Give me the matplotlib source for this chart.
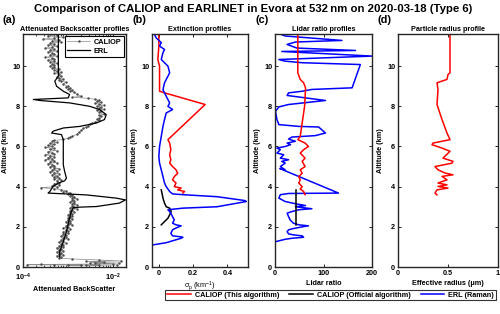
import numpy as np
import matplotlib
matplotlib.use('Agg')
import matplotlib.pyplot as plt
from matplotlib.lines import Line2D

plt.rcParams['font.family'] = ['Liberation Sans', 'DejaVu Sans']
plt.rcParams['font.weight'] = 'bold'
plt.rcParams['mathtext.default'] = 'regular'
#
# ---------------- data ----------------
# (a) attenuated backscatter, CALIOP (log10 of value)
cal_bsc_alt = [11.55, 11.5, 11.45, 11.4, 11.35, 11.3, 11.25, 11.2, 11.15, 11.1, 11.05, 11.0,
               10.95, 10.9, 10.85, 10.8, 10.75, 10.7, 10.65, 10.6, 10.55, 10.5, 10.45, 10.4,
               10.35, 10.3, 10.25, 10.2, 10.15, 10.1, 10.05, 10.0, 9.95, 9.9, 9.85, 9.8,
               9.75, 9.7, 9.65, 9.6, 9.5, 9.45, 9.4, 9.35, 9.3, 9.25, 9.2, 9.1, 9.0, 8.95,
               8.9, 8.85, 8.8, 8.75, 8.7, 8.6, 8.5, 8.45, 8.4, 8.35, 8.3, 8.25, 8.2, 8.15,
               8.1, 8.05, 8.0, 7.95, 7.9, 7.85, 7.8, 7.75, 7.7, 7.6, 7.55, 7.5, 7.4, 7.35,
               7.3, 7.2, 7.15, 7.1, 7.0, 6.95, 6.9, 6.8, 6.7, 6.6, 6.5, 6.45, 6.4, 6.35,
               6.3, 6.25, 6.2, 6.15, 6.1, 6.05, 6.0, 5.95, 5.9, 5.85, 5.8, 5.75, 5.7, 5.65,
               5.6, 5.55, 5.5, 5.45, 5.4, 5.35, 5.3, 5.25, 5.2, 5.15, 5.1, 5.05, 5.0, 4.95,
               4.9, 4.85, 4.8, 4.75, 4.7, 4.65, 4.6, 4.55, 4.5, 4.45, 4.4, 4.35, 4.3, 4.2,
               4.15, 4.1, 4.05, 4.0, 3.95, 3.9, 3.85, 3.8, 3.75, 3.7, 3.65, 3.6, 3.55, 3.5,
               3.45, 3.4, 3.35, 3.3, 3.25, 3.2, 3.15, 3.1, 3.05, 3.0, 2.95, 2.9, 2.85, 2.8,
               2.75, 2.7, 2.65, 2.6, 2.55, 2.5, 2.45, 2.4, 2.35, 2.3, 2.25, 2.2, 2.15, 2.1,
               2.05, 2.0, 1.95, 1.9, 1.85, 1.8, 1.75, 1.7, 1.65, 1.6, 1.55, 1.5, 1.45, 1.4,
               1.35, 1.3, 1.25, 1.2, 1.15, 1.1, 1.05, 1.0, 0.95, 0.9, 0.85, 0.8, 0.75, 0.7,
               0.65, 0.6, 0.55, 0.5, 0.45, 0.4, 0.35, 0.3, 0.28, 0.25, 0.22, 0.2, 0.18, 0.15,
               0.13, 0.11, 0.1, 0.1, 0.09, 0.1, 0.08, 0.1]
cal_bsc_log = [-3.25, -3.45, -3.1, -3.3, -3.55, -3.2, -3.35, -3.15, -3.4, -3.3, -3.45, -3.25,
               -3.35, -3.5, -3.3, -3.4, -3.25, -3.45, -3.35, -3.3, -3.4, -3.25, -3.5, -3.35,
               -3.3, -3.45, -3.3, -3.4, -3.25, -3.35, -3.3, -3.4, -3.3, -3.35, -3.2, -3.3,
               -3.25, -3.15, -3.3, -3.2, -3.15, -3.25, -3.2, -3.1, -3.2, -3.15, -3.05, -3.1, -3.0, -3.05,
               -2.95, -3.0, -2.9, -2.95, -2.85, -2.8, -2.7, -2.9, -2.55, -2.4, -2.3, -2.35, -2.25, -2.4,
               -2.3, -2.2, -2.35, -2.25, -2.3, -2.2, -2.35, -2.25, -2.3, -2.2, -2.3, -2.25, -2.3, -2.35,
               -2.3, -2.4, -2.45, -2.5, -2.55, -2.6, -2.65, -2.7, -2.75, -2.8, -2.9, -2.95, -3.0, -3.1,
               -3.3, -3.35, -3.25, -3.4, -3.3, -3.45, -3.35, -3.5, -3.3, -3.4, -3.25, -3.45, -3.35, -3.3,
               -3.5, -3.4, -3.3, -3.45, -3.35, -3.5, -3.3, -3.4, -3.25, -3.45, -3.35, -3.3, -3.4, -3.3,
               -3.2, -3.35, -3.25, -3.4, -3.3, -3.2, -3.35, -3.25, -3.3, -3.2, -3.3, -3.15, -3.25, -3.2,
               -3.3, -3.2, -3.35, -3.25, -3.6, -3.3, -3.15, -3.05, -3.1, -2.95, -3.0, -2.9, -2.95, -2.85,
               -2.9, -2.8, -2.9, -2.85, -2.95, -2.85, -2.9, -2.8, -2.9, -2.85, -2.95, -2.8, -2.9, -2.95,
               -2.85, -2.95, -2.9, -3.0, -2.9, -2.95, -3.0, -2.9, -3.0, -2.95, -3.05, -2.95, -3.0, -2.9,
               -3.05, -3.0, -3.1, -2.95, -3.05, -3.0, -3.1, -3.0, -3.1, -3.05, -3.15, -3.05, -3.1, -3.0,
               -3.15, -3.1, -3.2, -3.05, -3.15, -3.1, -3.2, -3.1, -3.25, -3.15, -3.2, -3.1, -3.25, -3.15,
               -3.2, -3.1, -3.25, -3.15, -3.2, -2.9, -2.3, -1.8, -2.6, -2.2, -2.5, -1.85, -2.4, -2.0,
               -3.6, -3.9, -3.3, -2.7, -3.0, -2.3, -2.6, -1.9]
# (a) attenuated backscatter, ERL (log10 of value)
erl_bsc_alt = [11.6, 9.5, 9.25, 9.0, 8.75, 8.59, 8.42, 8.34, 8.29, 8.17, 8.0, 7.84, 7.59,
               7.34, 7.17, 7.0, 6.92, 6.76, 6.67, 6.59, 6.34, 5.09, 4.76, 4.42, 4.29, 4.18,
               4.01, 3.76, 3.68, 3.59, 3.43, 3.34, 3.18, 3.01, 2.98, 2.95, 2.76, 2.43, 1.76,
               1.26, 0.77, 0.5]
erl_bsc_log = [-3.21, -3.21, -3.29, -3.25, -3.10, -2.96, -2.99, -3.77, -3.62, -2.96, -2.51,
               -2.29, -2.14, -2.18, -2.36, -2.73, -3.10, -3.33, -3.36, -3.14, -3.10, -3.10,
               -3.07, -3.03, -3.07, -3.21, -3.33, -3.40, -3.44, -2.59, -1.92, -1.71, -1.85,
               -2.36, -2.73, -2.88, -2.92, -2.96, -3.03, -3.10, -3.18, -3.18]

# (b) extinction (km-1)
cal_ext_alt = [3.68, 3.76, 3.84, 3.93, 4.0, 4.18, 4.34, 4.5, 4.67, 4.84, 5.0, 5.17, 5.34,
               5.59, 5.84, 6.17, 6.34, 8.09, 8.67, 8.75, 9.0, 10.0, 10.33, 11.0, 11.6]
cal_ext = [0.14, 0.15, 0.11, 0.13, 0.09, 0.10, 0.08, 0.09, 0.11, 0.10, 0.08, 0.063, 0.07,
           0.063, 0.07, 0.063, 0.053, 0.27, 0.033, 0.004, 0.004, 0.004, -0.006, 0.0, 0.0]
off_ext_alt = [2.1, 2.26, 2.43, 2.6, 2.76, 2.93, 3.0, 3.18, 3.43, 3.6, 3.84]
off_ext = [0.014, 0.033, 0.053, 0.063, 0.072, 0.063, 0.043, 0.033, 0.024, 0.02, 0.014]
erl_ext_alt = [1.10, 1.21, 1.31, 1.43, 1.48, 1.51, 1.55, 1.68, 1.85, 1.9, 2.05, 2.1, 2.18,
               2.35, 2.5, 2.68, 2.76, 2.85, 2.93, 3.0, 3.26, 3.31, 3.5, 3.6, 3.64, 3.76,
               3.88, 4.0, 4.18, 4.5, 4.84, 5.17, 5.5, 6.0, 6.5, 7.0, 7.34, 7.67, 7.84, 8.0,
               8.17, 8.5, 8.67, 8.83, 9.17, 9.5, 9.67, 10.0, 10.17, 10.33, 10.67, 10.83,
               11.0, 11.17, 11.41, 11.58]
erl_ext = [-0.035, 0.043, 0.082, 0.13, 0.14, 0.12, 0.08, 0.07, 0.08, 0.09, 0.13, 0.10, 0.08,
           0.09, 0.08, 0.07, 0.063, 0.053, 0.14, 0.34, 0.51, 0.50, 0.34, 0.14, 0.08, 0.063,
           0.053, 0.043, 0.033, 0.024, 0.014, 0.004, 0.0, 0.004, 0.014, 0.024, 0.033, 0.043,
           0.08, 0.053, 0.063, 0.043, 0.033, 0.024, 0.033, 0.053, 0.063, 0.053, 0.033, 0.014,
           0.024, 0.033, 0.004, 0.014, -0.016, -0.025]

# (c) lidar ratio (sr)
cal_lr_alt = [3.6, 3.76, 3.88, 4.0, 4.18, 4.34, 4.5, 4.67, 4.84, 5.0, 5.26, 5.42, 5.67,
              5.84, 6.0, 6.17, 6.34, 6.5, 7.17, 8.0, 8.92, 9.17, 9.34, 9.67, 11.66]
cal_lr = [62, 59, 52, 56, 49, 52, 49, 56, 52, 62, 56, 62, 52, 59, 69, 62, 47, 52, 56, 61,
          63, 59, 52, 47, 47]
off_lr_alt = [2.1, 2.5, 3.0, 3.5, 3.84]
off_lr = [43, 43, 43, 43, 43]
erl_lr_alt = [1.26, 1.38, 1.43, 1.48, 1.55, 1.6, 1.65, 1.76, 1.85, 1.9, 2.0, 2.05, 2.1,
              2.18, 2.35, 2.51, 2.68, 2.76, 2.85, 2.9, 2.96, 3.0, 3.06, 3.15, 3.26, 3.43,
              3.6, 3.66, 3.68, 4.9, 4.84, 5.0, 5.17, 5.26, 5.34, 5.42, 5.59, 5.67, 5.84,
              5.92, 6.0, 6.09, 6.17, 6.26, 6.37, 6.47, 6.54, 6.67, 6.97, 7.0, 7.09, 7.34,
              7.75, 7.97, 8.09, 8.29, 8.42, 8.54, 8.67, 8.75, 8.84, 8.92, 10.08, 10.17,
              10.25, 10.33, 10.5, 10.67, 10.73, 10.78, 10.9, 11.08, 11.2, 11.28, 11.5, 11.66]
erl_lr = [1, 21, 35, 59, 56, 38, 28, 25, 28, 35, 56, 69, 49, 38, 31, 28, 25, 35, 49, 76,
          56, 42, 63, 42, 21, 8, 11, 28, 131, 10, 21, 11, 21, 14, 28, 11, 18, 4, 11, 4, 21,
          32, 25, 42, 28, 35, 83, 104, 90, 49, 8, 4, 1, 8, 28, 104, 63, 25, 28, 56, 76,
          159, 176, 56, 20, 8, 200, 63, 14, 166, 45, 25, 42, 138, 21, 4]

# (d) effective radius (um)
cal_reff_alt = [3.59, 3.68, 3.84, 3.93, 4.01, 4.09, 4.18, 4.34, 4.51, 4.59, 4.68, 4.84, 5.0,
                5.17, 5.26, 5.42, 5.76, 5.92, 6.09, 6.17, 6.34, 6.67, 7.34, 8.09, 8.84, 9.17,
                9.34, 9.58, 9.67, 11.66]
cal_reff = [0.39, 0.37, 0.39, 0.50, 0.40, 0.49, 0.40, 0.49, 0.44, 0.55, 0.47, 0.40, 0.37,
            0.54, 0.55, 0.45, 0.52, 0.44, 0.34, 0.35, 0.52, 0.49, 0.44, 0.39, 0.40, 0.39,
            0.49, 0.50, 0.52, 0.52]
#
# ---------------- figure ----------------
fig = plt.figure(figsize=(5.0, 3.14), dpi=100)
W, H = 500.0, 314.0
def add_ax(x0, x1, y0=34, y1=267):
    return fig.add_axes([x0 / W, 1 - y1 / H, (x1 - x0) / W, (y1 - y0) / H])

ax_a = add_ax(23, 126)
ax_b = add_ax(152, 248)
ax_c = add_ax(275, 372)
ax_d = add_ax(398, 498)

red, blue, blk, gry = '#ff0000', '#0000ff', 'k', '#8c8c8c'
lw = 1.1
fs_tick = 5.2
fs_lab = 5.2
fs_tit = 5.2

# (a)
ax_a.plot(10 ** np.array(cal_bsc_log), cal_bsc_alt, '-', color=gry, lw=0.5,
          marker='.', ms=1.5, mfc='#4a4a4a', mec='#4a4a4a', label='CALIOP')
ax_a.plot(10 ** np.array(erl_bsc_log), erl_bsc_alt, '-', color=blk, lw=0.9, label='ERL')
ax_a.set_xscale('log')
ax_a.set_xlim(1e-4, 2e-2)
ax_a.set_xticks([1e-4, 1e-2])
ax_a.set_xticklabels(['10$^{-4}$', '10$^{-2}$'])
ax_a.set_xlabel('Attenuated BackScatter', fontsize=fs_lab, fontweight='bold', labelpad=2)
ax_a.set_title('Attenuated Backscatter profiles', fontsize=fs_tit, fontweight='bold', pad=2)
leg_a = ax_a.legend(loc='upper right', fontsize=5.3, frameon=True, fancybox=False,
                    borderpad=0.3, handlelength=3.2, labelspacing=0.3,
                    borderaxespad=0.3, handletextpad=0.5)
leg_a.get_frame().set_edgecolor('k')
leg_a.get_frame().set_linewidth(0.8)
leg_a.get_frame().set_alpha(1)
for t in leg_a.get_texts():
    t.set_fontweight('bold')

# (b)
ax_b.plot(cal_ext, cal_ext_alt, color=red, lw=lw)
ax_b.plot(off_ext, off_ext_alt, color=blk, lw=lw)
ax_b.plot(erl_ext, erl_ext_alt, color=blue, lw=lw)
ax_b.set_xlim(-0.04, 0.52)
ax_b.set_xticks([0, 0.2, 0.4])
ax_b.set_xticklabels(['0', '0.2', '0.4'])
ax_b.set_xlabel(r'$\sigma_p$ (km$^{-1}$)', fontsize=fs_lab, labelpad=2)
ax_b.set_title('Extinction profiles', fontsize=fs_tit, fontweight='bold', pad=2)

# (c)
ax_c.plot(erl_lr, erl_lr_alt, color=blue, lw=lw)
ax_c.plot(cal_lr, cal_lr_alt, color=red, lw=lw)
ax_c.plot(off_lr, off_lr_alt, color=blk, lw=lw)
ax_c.set_xlim(0, 200)
ax_c.set_xticks([0, 100, 200])
ax_c.set_xlabel('Lidar ratio', fontsize=fs_lab, fontweight='bold', labelpad=2)
ax_c.set_title('Lidar ratio profiles', fontsize=fs_tit, fontweight='bold', pad=2)

# (d)
ax_d.plot(cal_reff, cal_reff_alt, color=red, lw=lw)
ax_d.set_xlim(0, 1)
ax_d.set_xticks([0, 0.5, 1])
ax_d.set_xticklabels(['0', '0.5', '1'])
ax_d.set_xlabel('Effective radius (\u03bcm)', fontsize=fs_lab, fontweight='bold', labelpad=2)
ax_d.set_title('Particle radius profile', fontsize=fs_tit, fontweight='bold', pad=2)

for ax, lab in zip([ax_a, ax_b, ax_c, ax_d], ['(a)', '(b)', '(c)', '(d)']):
    ax.set_ylim(0, 11.6)
    ax.set_yticks([0, 2, 4, 6, 8, 10])
    ax.set_ylabel('Altitude (km)', fontsize=fs_lab, fontweight='bold', labelpad=2)
    ax.tick_params(direction='in', top=True, right=True, labelsize=fs_tick,
                   length=2.5, width=0.6, pad=2)
    ax.tick_params(which='minor', direction='in', top=True, right=True, length=1.5, width=0.5)
    for s in ax.spines.values():
        s.set_linewidth(1.0)
        s.set_color('#262626')
    ax.text(-0.2, 1.06, lab, transform=ax.transAxes,
            fontsize=7.8, fontweight='bold', ha='left', va='center')
ax_a.tick_params(axis='x', which='major', pad=3.5)

fig.text(0.506, 0.97, 'Comparison of CALIOP and EARLINET in Evora at 532\u2009nm on 2020-03-18 (Type 6)',
         ha='center', va='center', fontsize=8.2, fontweight='bold',
         family=['Liberation Sans', 'DejaVu Sans'])

handles = [Line2D([], [], color=red, lw=lw), Line2D([], [], color=blk, lw=lw),
           Line2D([], [], color=blue, lw=lw)]
leg = fig.legend(handles, ['CALIOP (This algorithm)', 'CALIOP (Official algorithm)', 'ERL (Raman)'],
                 loc='center', bbox_to_anchor=(330.5 / W, 1 - 295 / H), ncol=3,
                 fontsize=5.2, frameon=True, fancybox=False, borderpad=0.25,
                 handlelength=3.3, columnspacing=1.4, handletextpad=0.5)
leg.get_frame().set_edgecolor('k')
leg.get_frame().set_linewidth(0.8)
for t in leg.get_texts():
    t.set_fontweight('bold')

fig.savefig('out.png', dpi=100)
